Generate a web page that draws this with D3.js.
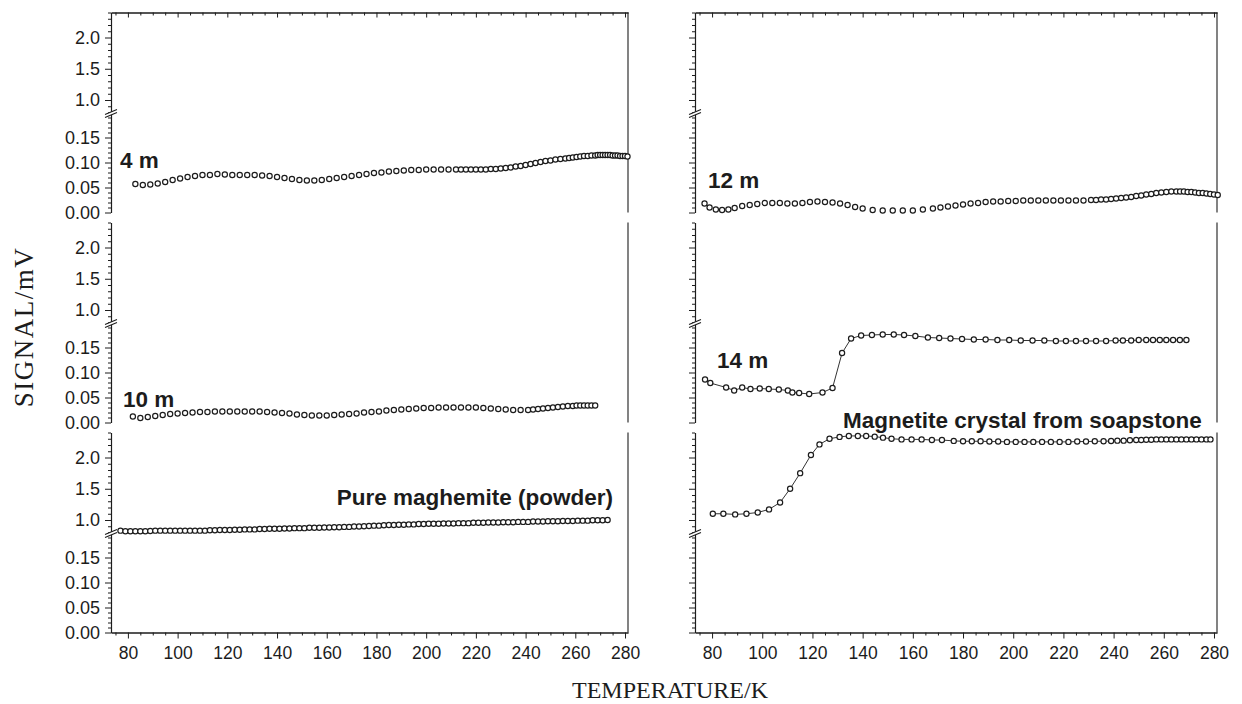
<!DOCTYPE html>
<html>
<head>
<meta charset="utf-8">
<script src="https://cdn.jsdelivr.net/npm/d3@7"></script>
<style>
  body { margin: 0; background: #fff; }
  svg { display: block; }
  .tick text { font-family: "Liberation Sans", Arial, sans-serif; fill: #1c1c1c; }
</style>
</head>
<body>
<div id="chart"></div>
<script>
// ---- data (T in K, signal in mV) ----
var t4m = [83,86,89,92,95,98,101,104,107,110,113,116,119,122,125,128,131,134,137,140,143,146,149,152,155,158,161,164,167,170,173,176,179,182,185,188,191,194,197,200,203,206,209,212,
  214,216,218,220,222,224,226,228,230,232,234,236,238,240,242,244,246,248,250,252,254,256,
  257.5,259,260.5,262,263.5,265,266.5,268,269,270,271,272,273,274,275,276,277,278,279,280,281];
var v4m = [0.057,0.055,0.056,0.058,0.061,0.065,0.068,0.071,0.073,0.075,
  0.075,0.077,0.076,0.075,0.075,0.075,0.075,0.074,0.073,0.071,
  0.069,0.067,0.065,0.064,0.064,0.065,0.067,0.069,0.071,0.073,
  0.075,0.077,0.079,0.080,0.082,0.083,0.084,0.085,0.085,0.086,
  0.086,0.086,0.086,0.086,
  0.086,0.086,0.086,0.086,0.086,0.086,0.087,0.087,0.088,0.089,0.090,0.092,0.093,0.095,0.097,0.099,0.101,0.103,0.104,0.106,0.107,0.108,
  0.109,0.110,0.111,0.112,0.113,0.113,0.114,0.114,
  0.115,0.115,0.115,0.115,0.115,0.115,0.114,0.114,0.114,0.113,0.113,0.113,0.112];

var t10m = [82,85,88,91,94,97,100,103,106,109,112,115,118,121,124,127,130,133,136,139,142,145,148,151,154,157,160,163,166,169,
  172,175,178,181,184,187,190,193,196,199,202,205,208,211,214,217,220,223,226,229,232,235,238,241,
  243,245,247,249,251,253,255,257,259,260.5,262,263.5,265,266.5,268];
var v10m = [0.012,0.009,0.011,0.013,0.015,0.017,0.018,0.019,0.020,0.021,
  0.021,0.022,0.022,0.022,0.022,0.022,0.022,0.022,0.021,0.020,
  0.019,0.018,0.016,0.015,0.014,0.014,0.014,0.015,0.016,0.017,
  0.018,0.020,0.021,0.022,0.024,0.025,0.026,0.027,0.028,0.029,
  0.029,0.030,0.030,0.030,0.030,0.030,0.030,0.029,0.028,0.027,
  0.026,0.025,0.025,0.025,
  0.026,0.027,0.028,0.029,0.030,0.031,0.032,0.033,0.033,
  0.034,0.034,0.034,0.034,0.034,0.034];

var tMaghemite = [77,79,81,83,85,87,89,91,93,95,97,99,101,103,105,107,109,111,113,115,
  117,119,121,123,125,127,129,131,133,135,137,139,141,143,145,147,149,151,153,155,
  157,159,161,163,165,167,169,171,173,175,177,179,181,183,185,187,189,191,193,195,
  197,199,201,203,205,207,209,211,213,215,217,219,221,223,225,227,229,231,233,235,
  237,239,241,243,245,247,249,251,253,255,257,259,261,263,265,267,269,271,273];
var vMaghemite = [0.83,0.82,0.82,0.82,0.82,0.82,0.825,0.83,0.83,0.83,
  0.83,0.83,0.83,0.83,0.83,0.83,0.83,0.83,0.835,0.835,
  0.84,0.84,0.84,0.845,0.845,0.85,0.85,0.85,0.855,0.855,
  0.86,0.86,0.86,0.865,0.865,0.87,0.87,0.87,0.875,0.875,
  0.875,0.88,0.88,0.885,0.885,0.89,0.89,0.895,0.895,0.90,
  0.905,0.91,0.91,0.915,0.92,0.92,0.925,0.925,0.93,0.93,
  0.935,0.935,0.94,0.94,0.94,0.945,0.945,0.945,0.95,0.95,
  0.95,0.955,0.955,0.955,0.96,0.96,0.96,0.965,0.965,0.965,
  0.97,0.97,0.97,0.975,0.975,0.975,0.98,0.98,0.98,0.985,
  0.985,0.985,0.99,0.99,0.99,0.995,0.995,0.995,1.0];

var t12m = [77,79,81.5,84,86.5,89,92,95,98,101,104,107,110,113,116,119,122,125,128,131,
  134,137,140,144,148,152,156,160,164,168,171,174,177,180,183,186,189,192,195,198,
  201,204,207,210,213,216,219,222,225,228,231,233,235,237,239,241,243,245,247,249,
  251,253,255,257,259,261,263,265,266.5,268,269.5,271,272.5,274,275.5,277,278.5,280,281.5];
var v12m = [0.018,0.010,0.006,0.005,0.006,0.009,0.013,0.015,0.017,0.019,
  0.019,0.019,0.018,0.018,0.019,0.021,0.022,0.021,0.020,0.018,
  0.015,0.011,0.008,0.005,0.004,0.004,0.004,0.004,0.006,0.008,
  0.010,0.012,0.014,0.016,0.018,0.019,0.021,0.022,0.022,0.023,
  0.023,0.024,0.024,0.024,0.024,0.024,0.024,0.024,0.024,0.024,
  0.025,0.025,0.026,0.026,0.027,0.028,0.029,0.030,0.031,0.033,
  0.034,0.036,0.037,0.039,0.040,0.041,0.042,0.042,0.042,0.042,
  0.041,0.041,0.040,0.039,0.039,0.038,0.037,0.036,0.035];

var t14m = [77.2,79.3,85.6,88.8,92,95.3,99,102.6,106.6,110.2,112,114.7,118.7,124,128,131.8,135.4,139.4,143.7,148,
  152.4,156.5,161,166,170.5,175,179.6,184.3,189,193.7,198.4,203,207.7,212.4,217,221,225,229,233,237,
  240.8,243.7,247,250,253,255.7,258.4,261,263.7,266.4,269];
var v14m = [0.086,0.079,0.070,0.064,0.070,0.067,0.068,0.067,0.066,0.064,
  0.060,0.059,0.057,0.060,0.069,0.139,0.168,0.174,0.175,0.176,
  0.176,0.175,0.173,0.170,0.169,0.168,0.167,0.166,0.166,0.165,
  0.165,0.164,0.164,0.164,0.163,0.163,0.163,0.163,0.163,0.163,
  0.164,0.164,0.164,0.165,0.165,0.165,0.165,0.165,0.165,0.165,0.165];

var tMagnetite = [80.3,84.5,89.2,93.7,98.2,102.7,107.1,111.1,115.1,119.4,122.8,126.8,130.8,134.5,138.1,141.4,144.8,148.1,151.5,155.5,
  159.5,163.5,167.6,171.6,176.3,180,183.5,187,190.5,194,197.5,201,204.5,208,211.5,215,218.5,222,225.5,229,
  232.5,236,239,241.5,244,246.5,249,251,253,255,257,259,261,263,265,267,269,271,273,275,277,278.6];
var vMagnetite = [1.10,1.10,1.09,1.10,1.12,1.17,1.28,1.50,1.75,2.04,
  2.21,2.30,2.33,2.345,2.345,2.345,2.334,2.318,2.30,2.29,
  2.29,2.29,2.28,2.28,2.266,2.26,2.26,2.26,2.255,2.255,
  2.25,2.25,2.25,2.25,2.25,2.25,2.25,2.25,2.255,2.255,
  2.26,2.26,2.265,2.27,2.27,2.275,2.28,2.28,2.285,2.285,
  2.29,2.29,2.29,2.29,2.29,2.29,2.29,2.29,2.29,2.29,2.29,2.29];

var xMajor = [80,100,120,140,160,180,200,220,240,260,280];
var xMinor = [75,85,90,95,105,110,115,125,130,135,145,150,155,165,170,175,185,190,195,205,210,215,225,230,235,245,250,255,265,270,275];
var yHighMajor = [1.0,1.5,2.0];
var yHighMinor = [0.8,0.9,1.1,1.2,1.3,1.4,1.6,1.7,1.8,1.9,2.1,2.2,2.3,2.4];
var yLowMajor = [0,0.05,0.10,0.15];
var yLowMinor = [0.01,0.02,0.03,0.04,0.06,0.07,0.08,0.09,0.11,0.12,0.13,0.14,0.16,0.17,0.18,0.19,0.20];

function draw(){
    var W = 1242, H = 704, ink = "#1c1c1c";
    var rowTop = [12.5, 222.5, 432.5], rowH = 200;
    var panels = [
        { range: [111, 628], labels: true },
        { range: [695, 1217], labels: false }
    ];
    var series = [
        { panel: 0, row: 0, part: "low",  t: t4m, v: v4m, line: false },
        { panel: 0, row: 1, part: "low",  t: t10m, v: v10m, line: false },
        { panel: 0, row: 2, part: "high", t: tMaghemite, v: vMaghemite, line: false },
        { panel: 1, row: 0, part: "low",  t: t12m, v: v12m, line: false },
        { panel: 1, row: 1, part: "low",  t: t14m, v: v14m, line: true },
        { panel: 1, row: 2, part: "high", t: tMagnetite, v: vMagnetite, line: true }
    ];
    var notes = [
        { text: "4 m", x: 120, y: 168, anchor: "start" },
        { text: "10 m", x: 123, y: 407, anchor: "start" },
        { text: "Pure maghemite (powder)", x: 613, y: 505, anchor: "end" },
        { text: "12 m", x: 708, y: 188, anchor: "start" },
        { text: "14 m", x: 717, y: 368, anchor: "start" },
        { text: "Magnetite crystal from soapstone", x: 843, y: 428, anchor: "start" }
    ];

    var svg = d3.select("#chart").append("svg")
        .attr("width", W).attr("height", H)
        .style("background-color", "#fff");

    function styleAxis(g){
        g.selectAll(".domain").attr("stroke", ink).attr("stroke-width", 1.1);
        g.selectAll(".tick line").attr("stroke", ink).attr("stroke-width", 1);
    }

    panels.forEach(function(p){
        p.x = d3.scaleLinear().domain([73.2, 281.2]).range(p.range);
        p.rows = rowTop.map(function(top){
            return {
                top: top,
                high: d3.scaleLinear().domain([0.8, 2.4]).range([top + 100, top]),
                low: d3.scaleLinear().domain([0, 0.2]).range([top + rowH, top + 100])
            };
        });

        // top frame, ticks inward
        svg.append("g").attr("transform", "translate(0," + rowTop[0] + ")")
            .call(d3.axisBottom(p.x).tickValues(xMajor).tickSize(5).tickSizeOuter(0).tickFormat(""))
            .call(styleAxis);
        svg.append("g").attr("transform", "translate(0," + rowTop[0] + ")")
            .call(d3.axisBottom(p.x).tickValues(xMinor).tickSize(3).tickSizeOuter(0).tickFormat(""))
            .call(styleAxis);

        // bottom axis
        var yb = rowTop[2] + rowH;
        svg.append("g").attr("transform", "translate(0," + yb + ")")
            .call(d3.axisBottom(p.x).tickValues(xMajor).tickSize(6).tickPadding(8).tickSizeOuter(0).tickFormat(d3.format("d")))
            .call(styleAxis)
            .selectAll("text").style("font-size", "17.5px");
        svg.append("g").attr("transform", "translate(0," + yb + ")")
            .call(d3.axisBottom(p.x).tickValues(xMinor).tickSize(3).tickSizeOuter(0).tickFormat(""))
            .call(styleAxis);

        p.rows.forEach(function(r){
            var ax = p.range[0];
            var g = svg.append("g").attr("transform", "translate(" + ax + ",0)");
            g.append("g").call(d3.axisLeft(r.high).tickValues(yHighMajor).tickSize(6).tickPadding(5).tickSizeOuter(0)
                .tickFormat(p.labels ? d3.format(".1f") : "")).call(styleAxis);
            g.append("g").call(d3.axisLeft(r.high).tickValues(yHighMinor).tickSize(3).tickSizeOuter(0).tickFormat("")).call(styleAxis);
            g.append("g").call(d3.axisLeft(r.low).tickValues(yLowMajor).tickSize(6).tickPadding(5).tickSizeOuter(0)
                .tickFormat(p.labels ? d3.format(".2f") : "")).call(styleAxis);
            g.append("g").call(d3.axisLeft(r.low).tickValues(yLowMinor).tickSize(3).tickSizeOuter(0).tickFormat("")).call(styleAxis);
            g.selectAll("text").style("font-size", "18px");

            // right border piece
            svg.append("line")
                .attr("x1", p.range[1]).attr("x2", p.range[1])
                .attr("y1", r.top).attr("y2", r.top + rowH)
                .attr("stroke", ink).attr("stroke-width", 1.1);

            // axis break mark
            var yk = r.top + 100;
            var bk = svg.append("g");
            bk.append("path")
                .attr("d", "M" + (ax - 6) + "," + (yk + 2) + "L" + (ax + 6) + "," + (yk - 3) +
                    "L" + (ax + 6) + "," + (yk) + "L" + (ax - 6) + "," + (yk + 5) + "Z")
                .attr("fill", "#fff");
            [0, 3].forEach(function(o){
                bk.append("line")
                    .attr("x1", ax - 6).attr("y1", yk + 2 + o)
                    .attr("x2", ax + 6).attr("y2", yk - 3 + o)
                    .attr("stroke", ink).attr("stroke-width", 1.1);
            });
        });
    });

    // data
    series.forEach(function(s){
        var p = panels[s.panel], r = p.rows[s.row];
        var y = s.part === "high" ? r.high : r.low;
        var pts = d3.zip(s.t, s.v);
        if (s.line) {
            svg.append("path")
                .datum(pts)
                .attr("d", d3.line().x(function(d){ return p.x(d[0]); }).y(function(d){ return y(d[1]); }))
                .attr("fill", "none")
                .attr("stroke", ink)
                .attr("stroke-width", 0.9);
        }
        svg.append("g").selectAll("circle")
            .data(pts)
          .enter().append("circle")
            .attr("cx", function(d){ return p.x(d[0]); })
            .attr("cy", function(d){ return y(d[1]); })
            .attr("r", 2.6)
            .attr("fill", "#fff")
            .attr("stroke", ink)
            .attr("stroke-width", 1.2);
    });

    // series labels
    svg.selectAll("text.note")
        .data(notes)
      .enter().append("text")
        .attr("class", "note")
        .attr("x", function(d){ return d.x; })
        .attr("y", function(d){ return d.y; })
        .attr("text-anchor", function(d){ return d.anchor; })
        .style("font-family", '"Liberation Sans", Arial, sans-serif')
        .style("font-weight", "bold")
        .style("font-size", "22.5px")
        .style("fill", ink)
        .text(function(d){ return d.text; });

    // axis titles
    svg.append("text")
        .attr("transform", "translate(33,327) rotate(-90)")
        .attr("text-anchor", "middle")
        .style("font-family", '"Liberation Serif", "Times New Roman", serif')
        .style("font-size", "27px")
        .style("letter-spacing", "1.5px")
        .style("fill", ink)
        .text("SIGNAL/mV");
    svg.append("text")
        .attr("x", 670).attr("y", 698)
        .attr("text-anchor", "middle")
        .style("font-family", '"Liberation Serif", "Times New Roman", serif')
        .style("font-size", "24px")
        .style("fill", ink)
        .text("TEMPERATURE/K");
}
draw();
</script>
</body>
</html>
